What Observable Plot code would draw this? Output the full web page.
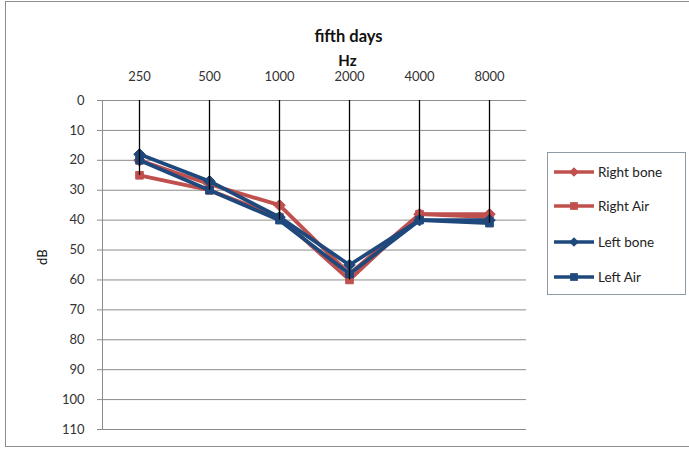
<!DOCTYPE html>
<html>
<head>
<meta charset="utf-8">
<script src="https://cdn.jsdelivr.net/npm/d3@7"></script>
<script src="https://cdn.jsdelivr.net/npm/@observablehq/plot@0.6"></script>
<style>
  html, body { margin: 0; padding: 0; background: #fff; }
  #wrap { position: relative; width: 689px; height: 450px; overflow: hidden; font-family: Lato, "Open Sans", sans-serif; }
  #border { position: absolute; left: 5px; top: 1px; width: 700px; height: 446px; border: 1px solid #8e8e8e; box-sizing: border-box; pointer-events: none; }
  #legend { position: absolute; left: 547px; top: 152px; width: 139px; height: 143px; border: 1px solid #8e9aa6; box-sizing: border-box; background: #fff; }
  .item { position: absolute; left: 5px; height: 20px; display: flex; align-items: center; font-size: 13.5px; color: #222; }
  .item svg { margin-right: 3px; }
</style>
</head>
<body>
<div id="wrap">
  <div id="chart"></div>
  <div id="legend"></div>
  <div id="border"></div>
</div>
<script>
const frequencies = ["250", "500", "1000", "2000", "4000", "8000"];
const seriesNames = ["Right bone", "Right Air", "Left bone", "Left Air"];
const rightBone = [20, 28, 35, 58, 38, 38];
const rightAir  = [25, 30, 39, 60, 38, 39];
const leftBone  = [18, 27, 39, 55, 40, 40];
const leftAir   = [20, 30, 40, 58, 40, 41];
const yTicks = [0, 10, 20, 30, 40, 50, 60, 70, 80, 90, 100, 110];
const colors = ["#c0504d", "#c0504d", "#1f497d", "#1f497d"];
const symbols = ["diamond2", "square", "diamond2", "square"];

const allSeries = [rightBone, rightAir, leftBone, leftAir];
const data = [];
allSeries.forEach((vals, si) => {
  vals.forEach((v, i) => data.push({freq: frequencies[i], dB: v, series: seriesNames[si]}));
});
const drops = frequencies.map((f, i) => ({freq: f, top: 0, bottom: d3.max(allSeries, s => s[i])}));

// left axis line drawn from the frame dimensions
function leftAxisLine(index, scales, values, dim) {
  const y0 = scales.y(yTicks[0]), y1 = scales.y(yTicks[yTicks.length - 1]);
  return d3.create("svg:line")
    .attr("x1", dim.marginLeft + 0.5).attr("x2", dim.marginLeft + 0.5)
    .attr("y1", y0).attr("y2", y1)
    .attr("stroke", "#8c8c8c").node();
}

const marks = [
  Plot.gridY(yTicks, {stroke: "#8c8c8c", strokeOpacity: 1, strokeWidth: 1}),
  Plot.axisY(yTicks, {tickSize: 5, tickPadding: 13, stroke: "#8c8c8c", fontSize: 13, fill: "#333", label: null}),
  leftAxisLine,
  Plot.axisX({anchor: "top", tickSize: 0, tickPadding: 20, fontSize: 13, fill: "#333", label: null}),
  Plot.text(["fifth days"], {frameAnchor: "top", dx: 34, dy: -70, fontSize: 16.5, fontWeight: "bold", fill: "#111"}),
  Plot.text(["Hz"], {frameAnchor: "top", dx: 33, dy: -45, fontSize: 15, fontWeight: "bold", fill: "#111"}),
  Plot.text(["dB"], {frameAnchor: "left", dx: -60, rotate: -90, fontSize: 13, fill: "#111"})
];
seriesNames.forEach((name, si) => {
  const d = data.filter(r => r.series === name);
  marks.push(Plot.line(d, {x: "freq", y: "dB", stroke: colors[si], strokeWidth: 3.8}));
  marks.push(Plot.dot(d, {x: "freq", y: "dB", symbol: symbols[si], r: si % 2 ? 4.3 : 5.2, fill: colors[si], stroke: colors[si], strokeWidth: 1}));
});
marks.push(Plot.ruleX(drops, {x: "freq", y1: "top", y2: "bottom", stroke: "#000", strokeWidth: 1.3}));

const chart = Plot.plot({
  width: 689,
  height: 450,
  marginLeft: 102,
  marginRight: 163,
  marginTop: 100,
  marginBottom: 21,
  style: {background: "transparent", fontFamily: "Lato, 'Open Sans', sans-serif"},
  x: {type: "point", domain: frequencies, padding: 0.5, axis: null},
  y: {domain: [0, 110], reverse: true, axis: null},
  marks
});
document.getElementById("chart").appendChild(chart);

const legend = document.getElementById("legend");
const tops = [9, 43, 79, 114];
seriesNames.forEach((name, si) => {
  const item = document.createElement("div");
  item.className = "item";
  item.style.top = tops[si] + "px";
  const s = d3.create("svg").attr("width", 42).attr("height", 20);
  s.append("line").attr("x1", 1).attr("x2", 41).attr("y1", 10).attr("y2", 10).attr("stroke", colors[si]).attr("stroke-width", 3.5);
  s.append("path").attr("transform", "translate(21,10)")
    .attr("d", d3.symbol(si % 2 ? d3.symbolSquare : d3.symbolDiamond2, 60)())
    .attr("fill", colors[si]);
  item.appendChild(s.node());
  const t = document.createElement("span");
  t.textContent = name;
  item.appendChild(t);
  legend.appendChild(item);
});
</script>
</body>
</html>
